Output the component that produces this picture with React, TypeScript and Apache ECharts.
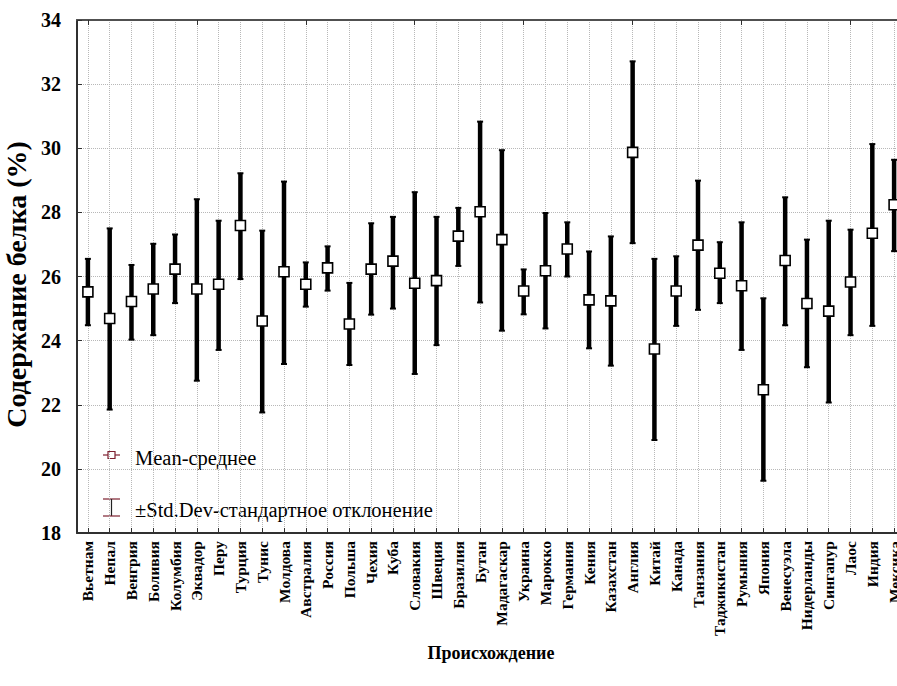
import React, { useEffect, useRef } from "react";
import * as echarts from "echarts";

const categories = [
  "Вьетнам", "Непал", "Венгрия", "Боливия", "Колумбия", "Эквадор", "Перу", "Турция", "Тунис", "Молдова",
  "Австралия", "Россия", "Польша", "Чехия", "Куба", "Словакия", "Швеция", "Бразилия", "Бутан", "Мадагаскар",
  "Украина", "Марокко", "Германия", "Кения", "Казахстан", "Англия", "Китай", "Канада", "Танзания", "Таджикистан",
  "Румыния", "Япония", "Венесуэла", "Нидерланды", "Сингапур", "Лаос", "Индия", "Мексика",
];

const means = [
  25.52, 24.69, 25.22, 25.61, 26.23, 25.61, 25.76, 27.59, 24.61, 26.15,
  25.76, 26.27, 24.52, 26.23, 26.48, 25.79, 25.87, 27.26, 28.02, 27.15,
  25.55, 26.18, 26.86, 25.27, 25.24, 29.87, 23.74, 25.55, 26.98, 26.10,
  25.71, 22.47, 26.50, 25.16, 24.92, 25.83, 27.35, 28.24,
];

const lower = [
  24.48, 21.85, 24.03, 24.17, 25.17, 22.75, 23.71, 25.92, 21.76, 23.27,
  25.06, 25.56, 23.24, 24.81, 25.00, 22.96, 23.86, 26.33, 25.19, 24.31,
  24.82, 24.38, 26.00, 23.76, 23.22, 27.04, 20.90, 24.46, 24.96, 25.17,
  23.71, 19.63, 24.48, 23.17, 22.07, 24.17, 24.46, 26.79,
];

const upper = [
  26.55, 27.50, 26.36, 27.02, 27.31, 28.41, 27.74, 29.22, 27.43, 28.96,
  26.44, 26.94, 25.80, 27.66, 27.86, 28.63, 27.86, 28.14, 30.83, 29.94,
  26.22, 27.98, 27.69, 26.78, 27.25, 32.71, 26.55, 26.63, 28.99, 27.07,
  27.69, 25.32, 28.47, 27.15, 27.74, 27.46, 30.13, 29.64,
];

const yMin = 18;
const yMax = 34;
const yInterval = 2;

const legendMean = "Mean-среднее";
const legendSd = "±Std.Dev-стандартное отклонение";
const yName = "Содержание белка (%)";
const xName = "Происхождение";

const SERIF = "Liberation Serif";

export default function App() {
  const ref = useRef<HTMLDivElement>(null);

  useEffect(() => {
    if (!ref.current) return;
    const chart = echarts.init(ref.current, null, { renderer: "svg" });
    const legendColor = "#7d2030";
    const gridLine = { show: true, lineStyle: { color: "#b8b8b8", type: "dotted" as const, width: 1 } };

    const option: any = {
      animation: false,
      backgroundColor: "#ffffff",
      grid: { left: 77, top: 20, width: 828, height: 513, containLabel: false, outerBoundsMode: "none" },
      xAxis: [
        {
          type: "category",
          data: categories,
          boundaryGap: true,
          position: "bottom",
          axisLine: { show: true, lineStyle: { color: "#303030", width: 2 } },
          axisTick: { show: true, inside: true, length: 5, alignWithLabel: true, lineStyle: { color: "#303030" } },
          splitLine: { ...gridLine, alignWithLabel: true },
          axisLabel: {
            rotate: 90,
            interval: 0,
            margin: 8,
            color: "#000",
            fontFamily: SERIF,
            fontWeight: "bold",
            fontSize: 15.5,
          },
          name: xName,
          nameLocation: "middle",
          nameGap: 101,
          nameTextStyle: { color: "#000", fontFamily: SERIF, fontWeight: "bold", fontSize: 18 },
        },
        {
          type: "category",
          data: categories,
          boundaryGap: true,
          position: "top",
          axisLine: { show: true, lineStyle: { color: "#505050", width: 2 } },
          axisTick: { show: true, inside: true, length: 5, alignWithLabel: true, lineStyle: { color: "#303030" } },
          axisLabel: { show: false },
          splitLine: { show: false },
        },
      ],
      yAxis: {
        type: "value",
        min: yMin,
        max: yMax,
        interval: yInterval,
        axisLine: { show: true, lineStyle: { color: "#303030", width: 2 } },
        axisTick: { show: true, inside: true, length: 5, lineStyle: { color: "#303030" } },
        splitLine: gridLine,
        axisLabel: {
          margin: 16,
          color: "#000",
          fontFamily: SERIF,
          fontWeight: "bold",
          fontSize: 20,
        },
        name: yName,
        nameLocation: "middle",
        nameGap: 46,
        nameTextStyle: { color: "#000", fontFamily: SERIF, fontWeight: "bold", fontSize: 28, padding: [0, 16, 0, 0] },
      },
      series: [
        {
          type: "custom",
          xAxisIndex: 0,
          data: categories.map((_, i) => [i, lower[i], upper[i]]),
          renderItem: (params: any, api: any) => {
            const x = api.value(0);
            const lo = api.coord([x, api.value(1)]);
            const hi = api.coord([x, api.value(2)]);
            const w = 3;
            return {
              type: "group",
              children: [
                { type: "line", shape: { x1: lo[0], y1: lo[1], x2: hi[0], y2: hi[1] }, style: { stroke: "#000", lineWidth: 4.5 } },
                { type: "line", shape: { x1: lo[0] - w, y1: lo[1], x2: lo[0] + w, y2: lo[1] }, style: { stroke: "#000", lineWidth: 2 } },
                { type: "line", shape: { x1: hi[0] - w, y1: hi[1], x2: hi[0] + w, y2: hi[1] }, style: { stroke: "#000", lineWidth: 2 } },
              ],
            };
          },
          z: 2,
        },
        {
          type: "scatter",
          xAxisIndex: 0,
          data: means,
          symbol: "rect",
          symbolSize: 10,
          itemStyle: { color: "#ffffff", borderColor: "#000", borderWidth: 1.6, opacity: 1 },
          z: 3,
        },
      ],
      graphic: [
        { type: "line", shape: { x1: 103, y1: 455, x2: 120, y2: 455 }, style: { stroke: legendColor, lineWidth: 1.2 } },
        { type: "rect", shape: { x: 108, y: 451.5, width: 7, height: 7 }, style: { fill: "#fff", stroke: legendColor, lineWidth: 1.2 } },
        {
          type: "text",
          left: 135,
          top: 447,
          style: { text: legendMean, fill: "#000", fontFamily: SERIF, fontSize: 20.5 },
        },
        { type: "line", shape: { x1: 103, y1: 499, x2: 120, y2: 499 }, style: { stroke: legendColor, lineWidth: 1.2 } },
        { type: "line", shape: { x1: 111.5, y1: 499, x2: 111.5, y2: 516 }, style: { stroke: "#222", lineWidth: 1.2 } },
        { type: "line", shape: { x1: 103, y1: 516, x2: 120, y2: 516 }, style: { stroke: legendColor, lineWidth: 1.2 } },
        {
          type: "text",
          left: 135,
          top: 499,
          style: { text: legendSd, fill: "#000", fontFamily: SERIF, fontSize: 20.5 },
        },
      ],
    };
    chart.setOption(option);
    return () => chart.dispose();
  }, []);

  return (
    <div
      ref={ref}
      style={{ position: "fixed", left: 0, top: 0, width: 897, height: 686, background: "#fff" }}
    />
  );
}
